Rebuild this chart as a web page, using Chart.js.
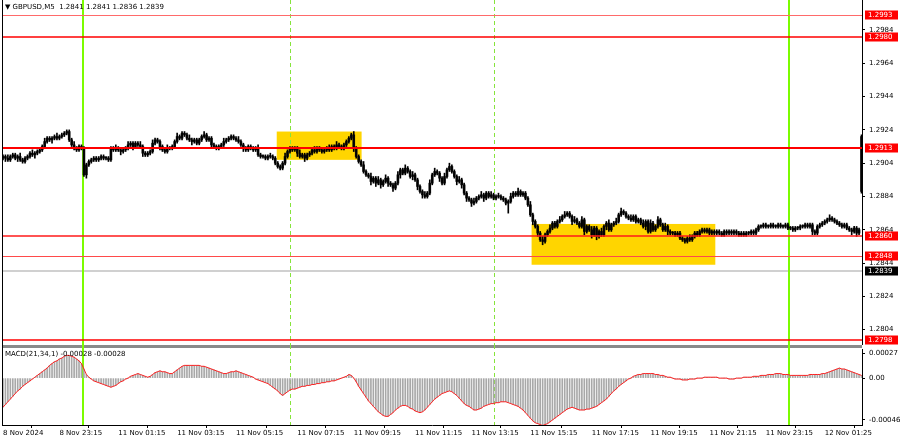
<!DOCTYPE html>
<html>
<head>
<meta charset="utf-8">
<script src="https://cdn.jsdelivr.net/npm/chart.js@4.4.1/dist/chart.umd.min.js"></script>
<style>
	html, body { margin: 0; padding: 0; background: #fff; }
	#wrap { position: relative; width: 900px; height: 441px; overflow: hidden; }
	canvas { position: absolute; left: 0; }
	#price { top: 0; }
	#macd { top: 345px; }
</style>
</head>
<body>
<div id="wrap">
	<canvas id="price" width="900" height="345"></canvas>
	<canvas id="macd" width="900" height="96"></canvas>
</div>
<script>
const symbolTitle = '\u25BC GBPUSD,M5  1.2841 1.2841 1.2836 1.2839';
const macdTitle = 'MACD(21,34,1) -0.00028 -0.00028';

// candle values are pips above this base price
const priceBase = 1.28;
const firstOpen = 107;
const closes = [
	108,107,106,108,109,107,108,106,105,107,108,110,109,110,111,112,114,117,119,118,119,120,119,120,121,
	122,123,118,115,113,112,114,113,97,103,105,106,107,106,107,108,107,107,106,113,112,113,112,111,112,
	113,115,116,114,116,115,114,110,109,110,111,116,118,117,114,112,111,113,113,114,117,120,119,122,121,
	119,118,117,118,116,118,120,121,118,119,115,114,113,114,115,117,118,119,120,119,118,117,115,113,112,
	114,113,112,113,109,108,108,107,108,108,107,104,102,101,104,108,111,113,112,113,110,108,109,107,109,
	110,112,111,113,112,111,112,113,112,114,113,115,114,113,115,117,119,121,113,108,105,103,99,97,96,
	93,95,92,94,91,93,95,92,91,89,92,97,100,98,101,99,96,97,94,90,87,85,84,86,92,
	97,99,98,95,92,96,100,102,99,96,93,94,91,86,83,82,80,81,83,84,85,83,86,84,85,
	83,84,84,83,82,80,81,84,86,85,87,85,86,83,79,73,69,66,62,58,57,61,63,65,68,
	66,69,70,72,73,74,72,69,70,68,66,70,63,66,64,61,65,60,63,61,66,68,64,67,68,
	69,73,75,74,72,71,70,72,69,70,68,66,69,63,68,64,66,70,67,64,66,63,62,62,61,
	62,59,58,57,59,58,60,62,61,63,64,63,64,62,63,62,63,62,61,63,62,63,62,63,62,
	61,62,61,62,62,63,62,64,66,66,67,66,66,67,66,66,67,66,66,67,65,65,64,65,65,
	66,66,67,66,67,63,62,66,67,68,69,70,71,70,69,68,67,66,67,65,64,63,65,62,64
];
const upWicks = [
	1,1,2,1,1,1,1,2,1,1,1,1,2,1,1,1,1,2,1,1,1,1,2,1,1,
	1,1,1,1,2,1,1,1,1,1,1,1,1,1,1,1,1,1,1,1,1,2,1,1,1,
	1,2,1,1,1,1,2,1,1,1,1,2,1,1,1,1,1,2,1,1,1,2,1,1,1,
	1,2,1,1,1,1,1,2,1,1,1,1,1,1,1,2,1,1,1,1,1,2,1,1,1,
	1,1,1,1,2,1,1,1,1,2,1,1,1,1,1,2,1,1,1,1,1,2,1,1,1,
	1,1,2,1,1,1,1,1,2,1,1,2,1,1,1,1,1,1,2,1,1,1,2,1,1,
	2,1,1,2,1,1,2,1,1,1,1,2,1,1,2,1,1,2,1,1,1,1,2,1,2,
	1,2,1,1,1,2,1,2,1,1,1,2,1,1,1,1,1,2,1,1,2,1,1,1,2,
	1,1,2,1,1,1,1,2,1,1,2,1,1,1,1,2,1,1,1,1,2,1,1,2,1,
	1,1,2,1,2,1,1,1,2,1,1,2,1,1,1,2,1,1,1,2,1,1,2,1,1,
	2,1,2,1,1,1,2,1,1,1,1,2,1,1,2,1,1,2,1,1,2,1,1,1,1,
	1,1,1,1,1,2,1,1,1,1,1,1,1,1,1,1,1,1,1,1,1,1,1,1,1,
	1,1,1,1,1,1,1,1,1,1,1,1,1,1,1,1,1,1,1,1,1,1,1,1,1,
	1,1,1,1,1,1,1,1,1,1,1,1,2,1,1,1,1,1,1,1,1,1,1,1,1
];
const downWicks = [
	1,2,1,1,1,1,2,1,1,1,1,1,1,2,1,1,1,1,1,1,2,1,1,1,1,
	1,1,1,1,1,1,1,1,1,2,1,1,1,1,1,1,1,1,1,1,1,1,1,2,1,
	1,1,1,2,1,1,1,2,1,1,1,1,1,1,2,1,1,1,1,1,1,1,1,1,1,
	1,1,2,1,1,1,1,1,1,1,2,1,1,1,1,1,1,1,1,1,1,1,1,2,1,
	1,1,1,1,1,1,1,1,1,1,1,1,1,1,1,1,1,1,1,1,2,1,1,2,1,
	1,1,1,1,1,1,1,1,1,1,1,1,1,1,1,1,1,1,2,1,1,1,1,1,1,
	2,1,2,1,2,1,1,2,1,2,1,1,2,1,1,1,1,2,1,2,1,2,1,1,1,
	1,1,1,2,1,1,1,1,1,1,2,1,2,1,2,1,2,1,1,1,1,2,1,1,1,
	1,1,1,1,1,1,6,1,1,1,1,1,1,1,1,1,2,1,2,1,2,1,1,1,1,
	1,1,1,1,1,1,1,2,1,1,1,1,2,1,1,2,1,2,1,1,1,2,1,1,1,
	1,1,1,1,1,1,1,1,1,1,1,1,2,1,1,1,1,1,1,1,1,2,1,1,1,
	1,1,1,1,1,1,1,1,1,1,1,1,1,1,1,1,1,1,1,1,1,1,1,1,1,
	1,1,1,1,1,1,1,1,1,1,1,1,1,1,1,1,1,1,1,1,1,1,1,1,1,
	1,1,1,1,1,2,1,1,1,1,1,1,1,1,1,1,1,1,1,1,1,2,1,2,1
];
// open, high, low, close of the spike bar at the right edge
const lastCandle = [120, 121, 86, 87];

// MACD(21,34,1) in units of 0.00001
const macdValues = [
	-32,-29,-26,-23,-20,-17,-14,-12,-9,-7,-5,-3,-1,1,3,5,7,9,11,14,16,18,19,21,22,
	24,25,25,24,23,21,19,16,10,4,1,-1,-3,-4,-5,-6,-7,-8,-9,-10,-9,-8,-6,-4,-3,
	-1,0,2,3,4,5,4,3,2,1,2,4,6,7,8,7,7,6,5,5,7,9,11,13,14,
	14,14,14,14,14,14,13,13,12,11,10,9,8,7,6,5,5,6,7,7,8,7,6,5,4,
	3,2,1,-1,-2,-3,-4,-5,-6,-8,-10,-12,-14,-17,-19,-17,-15,-13,-12,-12,-11,-10,-9,-9,-8,
	-8,-7,-7,-6,-6,-5,-5,-4,-4,-3,-3,-2,-1,0,1,2,4,3,0,-4,-9,-13,-17,-21,-25,
	-28,-31,-34,-37,-39,-41,-42,-42,-40,-38,-35,-33,-31,-30,-30,-31,-33,-34,-36,-37,-38,-37,-35,-32,-29,
	-26,-23,-21,-19,-17,-16,-15,-14,-15,-17,-19,-22,-25,-28,-30,-31,-33,-35,-35,-34,-33,-31,-30,-29,-28,
	-28,-27,-27,-26,-26,-26,-27,-28,-29,-30,-31,-33,-35,-38,-41,-44,-47,-49,-50,-51,-52,-51,-50,-48,-46,
	-44,-42,-40,-38,-36,-34,-33,-32,-33,-34,-35,-35,-35,-34,-34,-33,-32,-31,-29,-27,-25,-23,-20,-17,-14,
	-12,-9,-7,-5,-3,-1,0,2,3,4,4,5,5,5,5,5,4,4,3,3,2,1,1,0,-1,
	-1,-1,-2,-2,-2,-1,-1,-1,0,0,0,1,1,1,1,1,1,0,0,0,0,-1,-1,-1,0,
	0,0,1,1,1,1,2,2,2,3,3,3,4,4,4,5,5,5,4,4,4,3,3,3,3,
	3,3,3,3,4,4,4,4,4,5,5,6,7,8,9,10,11,10,10,9,8,7,6,5,4,
	3
];

const priceTicks = [1.2804, 1.2824, 1.2844, 1.2864, 1.2884, 1.2904, 1.2924, 1.2944, 1.2964, 1.2984];
const macdTicks = [0.00027, 0, -0.00046];
const timeTickBars = [0, 23, 47, 71, 95, 120, 143, 168, 191, 215, 240, 264, 288, 311, 335];
const timeTickLabels = ['8 Nov 2024', '8 Nov 23:15', '11 Nov 01:15', '11 Nov 03:15', '11 Nov 05:15', '11 Nov 07:15',
	'11 Nov 09:15', '11 Nov 11:15', '11 Nov 13:15', '11 Nov 15:15', '11 Nov 17:15', '11 Nov 19:15',
	'11 Nov 21:15', '11 Nov 23:15', '12 Nov 01:25'];

const levelPrices = [1.2993, 1.2980, 1.2913, 1.2860, 1.2848, 1.2798];
const bidPrice = 1.2839;
const sessionBars = [33, 321];
const separatorBars = [117, 200];
// [from bar, to bar, top price, bottom price]
const zones = [[111.6, 146.2, 1.2923, 1.2906], [215.5, 290.4, 1.28675, 1.2843]];

const FONT = '"DejaVu Sans", sans-serif';
const levelColors = ['#ff6a6a', '#ff0000', '#ff0000', '#ff1a1a', '#ff4a4a', '#ff0000'];
const levelWidths = [1, 1.5, 2, 1.5, 1, 1.5];

const toPrice = v => +(priceBase + v / 10000).toFixed(5);

const candles = closes.map((c, i) => {
	const o = i ? closes[i - 1] : firstOpen;
	return { x: i, o: o, c: c, h: Math.max(o, c) + upWicks[i], l: Math.min(o, c) - downWicks[i] };
});
candles.push({ x: closes.length, o: lastCandle[0], h: lastCandle[1], l: lastCandle[2], c: lastCandle[3] });

const X_MIN = -0.4, X_MAX = 350.2;

// fixed axis width, and no extra room for the end labels
const fixedWidth = w => s => { s.width = w; s.paddingTop = 0; s.paddingBottom = 0; };

const drawVerticals = (chart, top, bottom) => {
	const { ctx, scales: { x } } = chart;
	ctx.save();
	ctx.strokeStyle = '#86e43c';
	ctx.lineWidth = 1;
	ctx.setLineDash([4, 3]);
	separatorBars.forEach(b => {
		const px = Math.round(x.getPixelForValue(b)) + 0.5;
		ctx.beginPath(); ctx.moveTo(px, top); ctx.lineTo(px, bottom); ctx.stroke();
	});
	ctx.setLineDash([]);
	ctx.strokeStyle = '#7cfc00';
	ctx.lineWidth = 2;
	sessionBars.forEach(b => {
		const px = Math.round(x.getPixelForValue(b)) - 1;
		ctx.beginPath(); ctx.moveTo(px, top); ctx.lineTo(px, bottom); ctx.stroke();
	});
	ctx.restore();
};

const tag = (ctx, a, py, text, bg) => {
	ctx.fillStyle = bg;
	ctx.fillRect(a.right + 3, Math.round(py) - 4.5, 33, 9);
	ctx.fillStyle = '#fff';
	ctx.fillText(text, a.right + 6, Math.round(py));
};

const priceOverlay = {
	id: 'priceOverlay',
	beforeDatasetsDraw(chart) {
		const { ctx, chartArea: a, scales: { x, y } } = chart;
		ctx.save();
		ctx.fillStyle = '#ffd500';
		zones.forEach(([b0, b1, hi, lo]) => {
			const x0 = x.getPixelForValue(b0), x1 = x.getPixelForValue(b1);
			const y0 = y.getPixelForValue(hi), y1 = y.getPixelForValue(lo);
			ctx.fillRect(x0, y0, x1 - x0, y1 - y0);
		});
		ctx.strokeStyle = '#d0d0d0';
		ctx.lineWidth = 2;
		const by = Math.round(y.getPixelForValue(bidPrice));
		ctx.beginPath(); ctx.moveTo(a.left, by); ctx.lineTo(a.right, by); ctx.stroke();
		ctx.restore();
		drawVerticals(chart, a.top, a.bottom);
	},
	afterDatasetsDraw(chart) {
		const { ctx, chartArea: a, scales: { y } } = chart;
		ctx.save();
		levelPrices.forEach((p, i) => {
			const py = Math.round(y.getPixelForValue(p)) + (levelWidths[i] === 1 ? 0.5 : 0);
			ctx.strokeStyle = levelColors[i];
			ctx.lineWidth = levelWidths[i];
			ctx.beginPath(); ctx.moveTo(a.left, py); ctx.lineTo(a.right, py); ctx.stroke();
		});
		ctx.strokeStyle = '#000';
		ctx.lineWidth = 1;
		ctx.beginPath(); ctx.moveTo(a.left + 0.5, a.top); ctx.lineTo(a.left + 0.5, a.bottom); ctx.stroke();
		ctx.font = '7px ' + FONT;
		ctx.textBaseline = 'middle';
		ctx.textAlign = 'left';
		levelPrices.forEach(p => tag(ctx, a, y.getPixelForValue(p), p.toFixed(4), '#ff0000'));
		tag(ctx, a, y.getPixelForValue(bidPrice), bidPrice.toFixed(4), '#000');
		ctx.fillStyle = '#000';
		ctx.fillText(symbolTitle, a.left + 3, 7);
		ctx.restore();
	}
};

const macdOverlay = {
	id: 'macdOverlay',
	beforeDatasetsDraw(chart) {
		const { ctx, chartArea: a } = chart;
		ctx.save();
		ctx.fillStyle = '#8a8a8a';
		ctx.fillRect(a.left, 0, a.right - a.left, 3);
		ctx.restore();
		drawVerticals(chart, 0, a.bottom);
	},
	afterDatasetsDraw(chart) {
		const { ctx, chartArea: a } = chart;
		ctx.save();
		ctx.strokeStyle = '#000';
		ctx.lineWidth = 1;
		ctx.beginPath(); ctx.moveTo(a.left + 0.5, 0); ctx.lineTo(a.left + 0.5, a.bottom); ctx.stroke();
		ctx.font = '7px ' + FONT;
		ctx.textBaseline = 'middle';
		ctx.fillStyle = '#000';
		ctx.fillText(macdTitle, a.left + 3, a.top + 5);
		ctx.restore();
	}
};

Chart.defaults.font.family = FONT;
Chart.defaults.font.size = 7;
Chart.defaults.color = '#000';

const commonPlugins = { legend: { display: false }, tooltip: { enabled: false } };

new Chart(document.getElementById('price'), {
	type: 'bar',
	data: {
		datasets: [
			{
				data: candles.map(k => ({ x: k.x, y: [toPrice(k.l), toPrice(k.h)] })),
				backgroundColor: '#000',
				barThickness: 1,
				grouped: false
			},
			{
				data: candles.map(k => ({ x: k.x, y: [toPrice(k.o), toPrice(k.c)] })),
				backgroundColor: '#111',
				barThickness: 2,
				minBarLength: 1,
				grouped: false
			}
		]
	},
	options: {
		responsive: false,
		animation: false,
		events: [],
		layout: { padding: { left: 2, top: 0, bottom: 0, right: 0 } },
		plugins: commonPlugins,
		scales: {
			x: { type: 'linear', min: X_MIN, max: X_MAX, offset: false, display: false },
			y: {
				type: 'linear',
				position: 'right',
				min: 1.27948,
				max: 1.3002,
				afterBuildTicks: s => { s.ticks = priceTicks.map(v => ({ value: v })); },
				afterFit: fixedWidth(38),
				ticks: { padding: 4, callback: v => v.toFixed(4) },
				grid: { drawOnChartArea: false, tickLength: 3, color: '#000' },
				border: { display: true, color: '#000' }
			}
		}
	},
	plugins: [priceOverlay]
});

const macdPoints = macdValues.map((v, i) => ({ x: i, y: v / 100000 }));

new Chart(document.getElementById('macd'), {
	type: 'bar',
	data: {
		datasets: [
			{
				type: 'line',
				data: macdPoints,
				borderColor: '#ff2020',
				borderWidth: 1,
				pointRadius: 0,
				tension: 0
			},
			{
				data: macdPoints,
				backgroundColor: '#a8a8a8',
				barThickness: 1,
				grouped: false
			}
		]
	},
	options: {
		responsive: false,
		animation: false,
		events: [],
		layout: { padding: { left: 2, top: 4, bottom: 0, right: 0 } },
		plugins: commonPlugins,
		scales: {
			x: {
				type: 'linear',
				min: X_MIN,
				max: X_MAX,
				offset: false,
				afterBuildTicks: s => { s.ticks = timeTickBars.map(v => ({ value: v })); },
				afterFit: s => { s.height = 16; },
				ticks: {
					autoSkip: false,
					maxRotation: 0,
					align: 'start',
					padding: 1,
					callback: (v, i) => timeTickLabels[i]
				},
				grid: { drawOnChartArea: false, tickLength: 3, color: '#000' },
				border: { display: true, color: '#000' }
			},
			y: {
				type: 'linear',
				position: 'right',
				min: -0.000515,
				max: 0.00032,
				afterBuildTicks: s => { s.ticks = macdTicks.map(v => ({ value: v })); },
				afterFit: fixedWidth(38),
				ticks: { padding: 4, callback: v => v === 0 ? '0.00' : v.toFixed(5) },
				grid: { drawOnChartArea: false, tickLength: 3, color: '#000' },
				border: { display: true, color: '#000' }
			}
		}
	},
	plugins: [macdOverlay]
});
</script>
</body>
</html>
